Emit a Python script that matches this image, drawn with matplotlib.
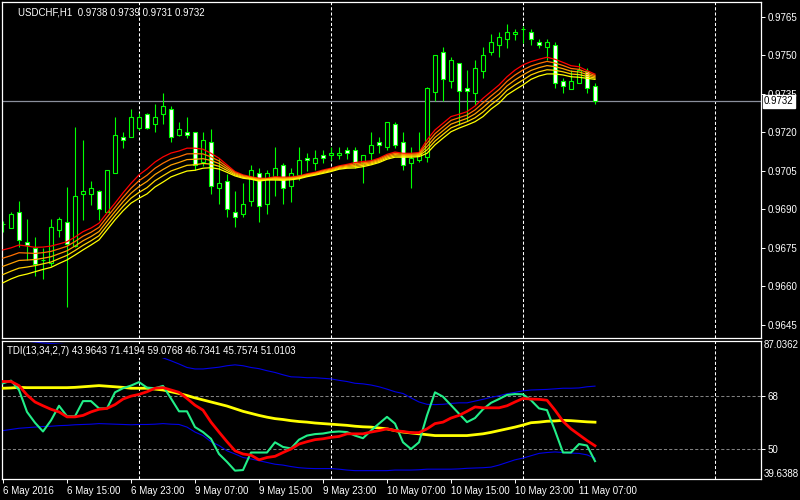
"""USDCHF H1 chart with MA ribbon and TDI sub-window, MT4 style."""

import numpy as np
import matplotlib
matplotlib.use("Agg")
import matplotlib.pyplot as plt
import matplotlib.transforms as mtransforms

plt.rcParams["font.family"] = ["Liberation Sans", "DejaVu Sans"]

# ---- candles (bar 0 = 6 May 2016 07:00, H1) ----
opens = [0.96843, 0.96829, 0.96889, 0.96772, 0.96750, 0.96704, 0.96691, 0.96819, 0.96850, 0.96759,
         0.96959, 0.96959, 0.96972, 0.96889, 0.97041, 0.97181, 0.97181, 0.97218, 0.97272, 0.97231,
         0.97270, 0.97290, 0.97189, 0.97200, 0.97200, 0.97084, 0.97161, 0.96982, 0.97010, 0.96889,
         0.96881, 0.96932, 0.97041, 0.96920, 0.97025, 0.97072, 0.96990, 0.97033, 0.97099, 0.97080,
         0.97111, 0.97111, 0.97111, 0.97130, 0.97130, 0.97080, 0.97119, 0.97161, 0.97142, 0.97231,
         0.97161, 0.97080, 0.97091, 0.97104, 0.97358, 0.97512, 0.97399, 0.97469, 0.97371, 0.97352,
         0.97440, 0.97512, 0.97539, 0.97562, 0.97582, 0.97601, 0.97589, 0.97550, 0.97531, 0.97539,
         0.97399, 0.97370, 0.97391, 0.97438, 0.97380]
highs = [0.96853, 0.96889, 0.96933, 0.96863, 0.96794, 0.96749, 0.96863, 0.96872, 0.96985, 0.97222,
         0.97170, 0.97012, 0.96976, 0.97053, 0.97261, 0.97200, 0.97291, 0.97274, 0.97274, 0.97310,
         0.97353, 0.97303, 0.97239, 0.97260, 0.97200, 0.97201, 0.97213, 0.97099, 0.97037, 0.96971,
         0.97002, 0.97073, 0.97060, 0.97053, 0.97142, 0.97080, 0.97060, 0.97142, 0.97119, 0.97130,
         0.97130, 0.97142, 0.97142, 0.97142, 0.97142, 0.97111, 0.97200, 0.97181, 0.97239, 0.97239,
         0.97200, 0.97142, 0.97200, 0.97378, 0.97500, 0.97533, 0.97493, 0.97469, 0.97443, 0.97480,
         0.97531, 0.97583, 0.97590, 0.97622, 0.97602, 0.97614, 0.97602, 0.97563, 0.97563, 0.97550,
         0.97410, 0.97443, 0.97469, 0.97449, 0.97390]
lows = [0.96810, 0.96828, 0.96755, 0.96704, 0.96639, 0.96630, 0.96678, 0.96794, 0.96520, 0.96755,
        0.96859, 0.96918, 0.96859, 0.96889, 0.97041, 0.97140, 0.97181, 0.97209, 0.97213, 0.97200,
        0.97231, 0.97161, 0.97185, 0.97177, 0.97053, 0.97067, 0.96959, 0.96920, 0.96870, 0.96831,
        0.96870, 0.96912, 0.96850, 0.96881, 0.96951, 0.96920, 0.96928, 0.97014, 0.97051, 0.97053,
        0.97080, 0.97091, 0.97095, 0.97095, 0.97060, 0.97002, 0.97080, 0.97119, 0.97130, 0.97138,
        0.97053, 0.96982, 0.97085, 0.97085, 0.97322, 0.97322, 0.97371, 0.97229, 0.97242, 0.97307,
        0.97410, 0.97500, 0.97492, 0.97527, 0.97559, 0.97547, 0.97540, 0.97527, 0.97482, 0.97371,
        0.97352, 0.97370, 0.97391, 0.97352, 0.97310]
closes = [0.96842, 0.96881, 0.96779, 0.96761, 0.96688, 0.96703, 0.96832, 0.96862, 0.96765, 0.96951,
          0.96971, 0.96982, 0.96901, 0.97053, 0.97189, 0.97169, 0.97259, 0.97259, 0.97218, 0.97259,
          0.97301, 0.97181, 0.97212, 0.97189, 0.97072, 0.97169, 0.96990, 0.97002, 0.96901, 0.96870,
          0.96920, 0.97053, 0.96912, 0.97041, 0.97060, 0.96982, 0.97041, 0.97091, 0.97091, 0.97099,
          0.97099, 0.97119, 0.97119, 0.97119, 0.97080, 0.97111, 0.97150, 0.97150, 0.97239, 0.97150,
          0.97072, 0.97099, 0.97119, 0.97371, 0.97500, 0.97409, 0.97480, 0.97360, 0.97360, 0.97449,
          0.97501, 0.97550, 0.97570, 0.97589, 0.97590, 0.97600, 0.97562, 0.97539, 0.97552, 0.97391,
          0.97379, 0.97399, 0.97443, 0.97371, 0.97320]

# ---- MA ribbon: outer (red) and inner (yellow) lines ----
ribbon_top = [0.96742, 0.96750, 0.96761, 0.96757, 0.96752, 0.96753, 0.96757, 0.96765, 0.96774, 0.96792,
              0.96813, 0.96827, 0.96846, 0.96886, 0.96924, 0.96964, 0.97001, 0.97034, 0.97057, 0.97084,
              0.97104, 0.97119, 0.97127, 0.97138, 0.97138, 0.97134, 0.97118, 0.97099, 0.97073, 0.97047,
              0.97034, 0.97027, 0.97021, 0.97021, 0.97027, 0.97025, 0.97026, 0.97030, 0.97038, 0.97044,
              0.97053, 0.97060, 0.97069, 0.97075, 0.97082, 0.97086, 0.97089, 0.97099, 0.97114, 0.97123,
              0.97118, 0.97118, 0.97121, 0.97170, 0.97209, 0.97235, 0.97261, 0.97270, 0.97280, 0.97302,
              0.97332, 0.97358, 0.97384, 0.97416, 0.97442, 0.97462, 0.97475, 0.97484, 0.97492, 0.97484,
              0.97472, 0.97459, 0.97455, 0.97440, 0.97426]
ribbon_bottom = [0.96614, 0.96629, 0.96641, 0.96648, 0.96657, 0.96666, 0.96674, 0.96689, 0.96703, 0.96722,
                 0.96742, 0.96761, 0.96781, 0.96820, 0.96859, 0.96894, 0.96924, 0.96943, 0.96960, 0.96987,
                 0.97006, 0.97026, 0.97038, 0.97049, 0.97052, 0.97060, 0.97062, 0.97057, 0.97044, 0.97030,
                 0.97021, 0.97017, 0.97010, 0.97014, 0.97014, 0.97013, 0.97015, 0.97019, 0.97027, 0.97033,
                 0.97040, 0.97047, 0.97056, 0.97060, 0.97061, 0.97066, 0.97073, 0.97082, 0.97095, 0.97103,
                 0.97103, 0.97103, 0.97105, 0.97118, 0.97151, 0.97177, 0.97202, 0.97216, 0.97228, 0.97241,
                 0.97261, 0.97290, 0.97313, 0.97345, 0.97365, 0.97384, 0.97406, 0.97419, 0.97427, 0.97427,
                 0.97423, 0.97416, 0.97414, 0.97410, 0.97406]

# ---- TDI(13,34,2,7) ----
tdi_price = [72.4, 73.3, 70.1, 62.6, 58.9, 55.9, 59.7, 64.7, 61.1, 61.1,
             66.3, 66.3, 63.8, 63.8, 69.3, 70.7, 71.6, 72.8, 70.9, 70.7,
             71.5, 67.2, 62.8, 62.8, 57.4, 55.7, 53.4, 48.2, 45.5, 42.5,
             42.7, 48.7, 48.7, 48.7, 52.2, 50.6, 50.1, 53.1, 54.5, 55.0,
             55.2, 55.7, 55.9, 55.7, 54.5, 53.6, 56.2, 58.6, 60.9, 58.6,
             52.2, 49.9, 52.2, 61.4, 69.3, 67.8, 64.9, 62.0, 59.1, 60.5,
             63.5, 65.7, 67.0, 68.4, 68.7, 68.6, 66.6, 63.8, 63.2, 56.2,
             48.7, 48.7, 51.6, 51.1, 45.76]
tdi_signal = [73.0, 73.0, 71.6, 68.4, 66.0, 64.7, 63.5, 62.6, 60.9, 60.9,
              61.4, 62.6, 63.5, 63.8, 65.1, 67.0, 68.0, 68.6, 69.5, 70.7,
              70.9, 70.1, 69.3, 67.2, 64.9, 63.2, 59.1, 55.7, 52.4, 49.3,
              48.2, 47.8, 46.2, 47.0, 47.4, 48.7, 49.9, 51.6, 52.4, 53.1,
              53.4, 53.9, 54.2, 55.1, 55.1, 55.1, 55.7, 56.2, 56.8, 56.2,
              55.9, 55.5, 55.5, 56.8, 58.6, 59.1, 60.5, 61.4, 62.8, 64.3,
              64.0, 64.0, 64.0, 64.7, 66.0, 67.2, 67.0, 66.9, 66.6, 63.2,
              59.4, 56.8, 54.8, 52.8, 51.01]
tdi_base = [70.7, 70.8, 71.0, 70.9, 70.9, 70.9, 70.9, 70.9, 70.9, 71.0,
            71.2, 71.4, 71.6, 71.4, 71.2, 71.0, 70.7, 70.7, 70.7, 70.4,
            70.1, 69.5, 68.9, 68.2, 67.4, 66.7, 66.0, 65.3, 64.6, 63.7,
            62.8, 62.1, 61.4, 60.8, 60.3, 60.0, 59.6, 59.3, 59.1, 58.8,
            58.6, 58.4, 58.2, 58.0, 57.7, 57.5, 57.4, 57.1, 56.8, 56.2,
            55.7, 55.4, 55.1, 54.8, 54.5, 54.5, 54.5, 54.5, 54.5, 54.8,
            55.1, 55.6, 56.2, 56.8, 57.4, 58.1, 58.9, 59.1, 59.4, 59.5,
            59.7, 59.6, 59.4, 59.2, 59.08]
band_up = [86.8, 86.9, 87.0, 86.8, 86.5, 86.2, 86.0, 85.8, 85.6, 85.4,
           85.2, 85.0, 84.8, 84.6, 84.5, 84.3, 84.2, 82.8, 82.6, 82.0,
           81.1, 80.1, 79.0, 77.8, 77.3, 77.3, 77.6, 77.9, 78.4, 78.7,
           78.4, 77.8, 77.4, 76.7, 76.1, 75.3, 74.6, 74.5, 74.3, 74.3,
           74.1, 73.9, 73.4, 73.0, 72.4, 72.2, 71.8, 71.2, 70.4, 69.5,
           68.9, 67.4, 66.0, 65.2, 65.1, 65.2, 65.5, 65.7, 65.7, 66.3,
           66.9, 67.6, 68.1, 68.8, 69.3, 69.8, 70.1, 70.2, 70.3, 70.5,
           70.7, 70.7, 70.8, 71.2, 71.42]
band_dn = [56.2, 56.6, 57.0, 57.2, 57.4, 57.6, 57.7, 57.9, 58.0, 58.2,
           58.3, 58.4, 58.6, 58.5, 58.4, 58.3, 58.2, 58.3, 58.3, 58.4,
           58.6, 58.4, 58.3, 57.4, 55.7, 54.5, 52.4, 51.1, 49.3, 48.2,
           47.0, 46.5, 45.9, 45.3, 44.7, 44.4, 43.9, 43.5, 43.3, 43.2,
           43.2, 43.2, 43.0, 42.7, 42.5, 42.5, 42.5, 42.5, 42.5, 42.7,
           42.7, 42.7, 42.8, 43.0, 43.0, 43.0, 43.0, 43.1, 43.3, 43.4,
           43.5, 43.7, 44.4, 45.3, 46.2, 46.8, 47.6, 48.4, 48.7, 48.9,
           48.7, 48.5, 48.4, 47.9, 46.73]

price_ticks = [0.9765, 0.9750, 0.9735, 0.9720, 0.9705, 0.9690, 0.9675, 0.9660, 0.9645]
time_ticks = [0, 8, 16, 24, 32, 40, 48, 56, 64, 72]
time_labels = ["6 May 2016", "6 May 15:00", "6 May 23:00", "9 May 07:00", "9 May 15:00",
               "9 May 23:00", "10 May 07:00", "10 May 15:00", "10 May 23:00", "11 May 07:00"]
day_breaks = [17, 41, 65, 89]
bid = 0.9732

o = np.array(opens); h = np.array(highs); l = np.array(lows); c = np.array(closes)
x = np.arange(len(o))

GREEN = "#00ff00"
fig = plt.figure(figsize=(8, 5), dpi=100, facecolor="black")
ax = fig.add_axes([2 / 800, 1 - 337.5 / 500, 759 / 800, 335.5 / 500], facecolor="black")
ax2 = fig.add_axes([2 / 800, 1 - 479 / 500, 759 / 800, 138.5 / 500], facecolor="black")

for a in (ax, ax2):
    a.set_xlim(-0.125, 94.75)
    for s in a.spines.values():
        s.set_color("white")
        s.set_linewidth(0.9)
    for d in day_breaks:
        a.axvline(d, color="white", lw=0.75, ls=(0, (3, 2)), zorder=1)
    a.yaxis.tick_right()
    a.tick_params(axis="y", colors="white", labelsize=7, length=3, width=0.7, pad=2)

# main price window
ax.set_ylim(0.96401, 0.97707)
ax.axhline(bid, color="#8a8f9c", lw=0.9, zorder=1)
ax.vlines(x, l, h, color=GREEN, lw=0.8, zorder=2)
up = c >= o
ax.bar(x, np.abs(c - o), width=0.5, bottom=np.minimum(o, c),
       color=np.where(up, "black", "white"), edgecolor=GREEN, linewidth=0.8, zorder=2.5)

top = np.array(ribbon_top); bot = np.array(ribbon_bottom)
ribbon_colors = ["#ff0000", "#ff7000", "#ffa000", "#ffd000", "#ffff00"]
for k, col in enumerate(ribbon_colors):
    f = k / (len(ribbon_colors) - 1)
    ax.plot(x, top + (bot - top) * f, color=col, lw=0.9, zorder=3)

ax.set_yticks(price_ticks)
ax.set_yticklabels([f"{p:.4f}" for p in price_ticks])
ax.set_xticks([])
trans = mtransforms.blended_transform_factory(ax.transAxes, ax.transData)
ax.text(1.004, bid, f"{bid:.4f}", transform=trans, color="black", fontsize=7, va="center",
        bbox=dict(boxstyle="square,pad=0.15", fc="white", ec="white"), zorder=5)
ax.text(0.021, 0.985, "USDCHF,H1  0.9738 0.9739 0.9731 0.9732", transform=ax.transAxes,
        color="white", fontsize=7, va="top")

# TDI window
ax2.set_ylim(39.6388, 87.0362)
for lvl in (68, 50):
    ax2.axhline(lvl, color="#808080", lw=0.75, ls=(0, (3, 2)), zorder=1)
ax2.plot(x, band_up, color="#0000e6", lw=0.8, zorder=2)
ax2.plot(x, band_dn, color="#0000e6", lw=0.8, zorder=2)
ax2.plot(x, tdi_base, color="#ffff00", lw=2.0, zorder=3)
ax2.plot(x, tdi_price, color="#22ee88", lw=1.5, zorder=4)
ax2.plot(x, tdi_signal, color="#ff0000", lw=2.0, zorder=5)
ax2.set_yticks([68, 50])
ax2.set_yticklabels(["68", "50"])
trans2 = mtransforms.blended_transform_factory(ax2.transAxes, ax2.transData)
ax2.text(1.004, 87.0362, "87.0362", transform=trans2, color="white", fontsize=7, va="top")
ax2.text(1.004, 39.6388, "39.6388", transform=trans2, color="white", fontsize=7, va="bottom")
ax2.text(0.006, 0.96, "TDI(13,34,2,7) 43.9643 71.4194 59.0768 46.7341 45.7574 51.0103",
         transform=ax2.transAxes, color="white", fontsize=7, va="top", zorder=6,
         bbox=dict(boxstyle="square,pad=0.2", fc="black", ec="none"))

ax2.set_xticks(time_ticks)
ax2.set_xticklabels(time_labels)
ax2.tick_params(axis="x", colors="white", labelsize=7, length=3, width=0.7, pad=2)
for lbl in ax2.get_xticklabels():
    lbl.set_horizontalalignment("left")

fig.savefig("out.png", dpi=100, facecolor="black")
